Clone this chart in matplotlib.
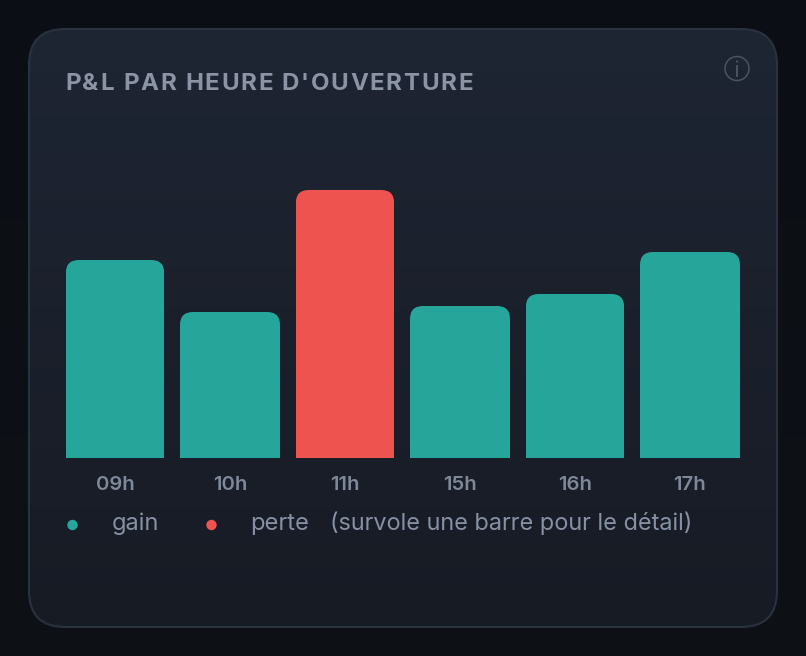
import numpy as np
import matplotlib as mpl
mpl.use('Agg')
import matplotlib.pyplot as plt
from matplotlib.patches import FancyBboxPatch, Circle
from matplotlib.transforms import IdentityTransform

plt.rcParams['font.family'] = ['Inter', 'DejaVu Sans']

hours = ['09h', '10h', '11h', '15h', '16h', '17h']
pnl = [198, 146, 268, 152, 164, 206]
is_gain = [True, True, False, True, True, True]

GAIN = '#26a69a'
LOSS = '#ef5350'
W, H = 806, 656


def spaced_text(ax, x, y, s, spacing, **kw):
    # matplotlib has no letter-spacing, so place the characters one by one
    r = ax.figure.canvas.get_renderer()
    for ch in s:
        ax.text(x, y, ch, ha='left', va='baseline', **kw)
        probe = ax.text(0, 0, 'H' + ch + 'H', **kw)
        probe2 = ax.text(0, 0, 'HH', **kw)
        adv = probe.get_window_extent(r).width - probe2.get_window_extent(r).width
        probe.remove()
        probe2.remove()
        x += adv + spacing


fig = plt.figure(figsize=(W / 100, H / 100), dpi=100)
fig.patch.set_facecolor('#0c0f15')

bg = fig.add_axes([0, 0, 1, 1])
bg.axis('off')

# page background, faint vertical falloff
bg.imshow(np.linspace(0, 1, 256).reshape(-1, 1), extent=(0, W, H, 0), aspect='auto', zorder=0,
          cmap=mpl.colors.LinearSegmentedColormap.from_list('p', ['#0b0e14', '#0e1116']))

# card with vertical gradient
card = FancyBboxPatch((29, 29), 748, 598, boxstyle='round,pad=0,rounding_size=36',
                      facecolor='none', edgecolor='none', zorder=1)
bg.add_patch(card)
grad = bg.imshow(np.linspace(0, 1, 256).reshape(-1, 1), extent=(29, 777, 627, 29), aspect='auto', zorder=1,
                 cmap=mpl.colors.LinearSegmentedColormap.from_list('c', ['#1e2533', '#171b24']))
grad.set_clip_path(card)
bg.add_patch(FancyBboxPatch((29, 29), 748, 598, boxstyle='round,pad=0,rounding_size=36',
                            facecolor='none', edgecolor='#2a3240', linewidth=1.5, zorder=2))
bg.set_xlim(0, W)
bg.set_ylim(H, 0)

fig.canvas.draw()
spaced_text(bg, 65, 90, "P&L PAR HEURE D'OUVERTURE", 1.7, fontsize=17.3, fontweight='bold',
            color='#8b94a5', zorder=5)

# info icon
bg.add_patch(Circle((737, 68.5), 12, facecolor='none', edgecolor='#4b5364', linewidth=1.1, zorder=5))
bg.plot([737, 737], [66, 76], color='#4b5364', linewidth=1.4, zorder=5)
bg.add_patch(Circle((737, 61.5), 1.1, facecolor='#4b5364', edgecolor='none', zorder=5))

# bars, one data unit in y is one pixel
ax = fig.add_axes([57.5 / W, (H - 458) / H, 690 / W, 268 / H])
ax.patch.set_alpha(0)
x = np.arange(len(hours))
colors = [GAIN if g else LOSS for g in is_gain]
bars = ax.bar(x, pnl, width=[0.855, 0.87, 0.855, 0.87, 0.855, 0.87], color=colors, linewidth=0, zorder=3)
ax.set_xlim(-0.5, 5.5)
ax.set_ylim(0, 268)
ax.set_yticks([])
ax.set_xticks(x)
ax.set_xticklabels(hours, fontsize=14.6, fontweight='semibold', color='#7f8899')
ax.tick_params(axis='x', length=0, pad=13)
for s in ax.spines.values():
    s.set_visible(False)

# round the top corners only: clip to a box running past the baseline
fig.canvas.draw()
for b in bars:
    ext = b.get_window_extent()
    clip = FancyBboxPatch((ext.x0, ext.y0 - 20), ext.width, ext.height + 20,
                          boxstyle='round,pad=0,rounding_size=13', transform=IdentityTransform())
    b.set_clip_path(clip)

# legend line
bg.add_patch(Circle((72.5, 525), 5.2, facecolor=GAIN, edgecolor='none', zorder=5))
bg.add_patch(Circle((211.5, 525), 5.2, facecolor=LOSS, edgecolor='none', zorder=5))
legend_color = '#8791a3'
bg.text(112, 530, 'gain', fontsize=17, color=legend_color, va='baseline', zorder=5)
bg.text(250.5, 530, 'perte', fontsize=17, color=legend_color, va='baseline', zorder=5)
bg.text(329.5, 530, '(survole une barre pour le détail)', fontsize=16.9, color=legend_color, va='baseline', zorder=5)

fig.savefig('out.png', dpi=100, facecolor=fig.get_facecolor())
